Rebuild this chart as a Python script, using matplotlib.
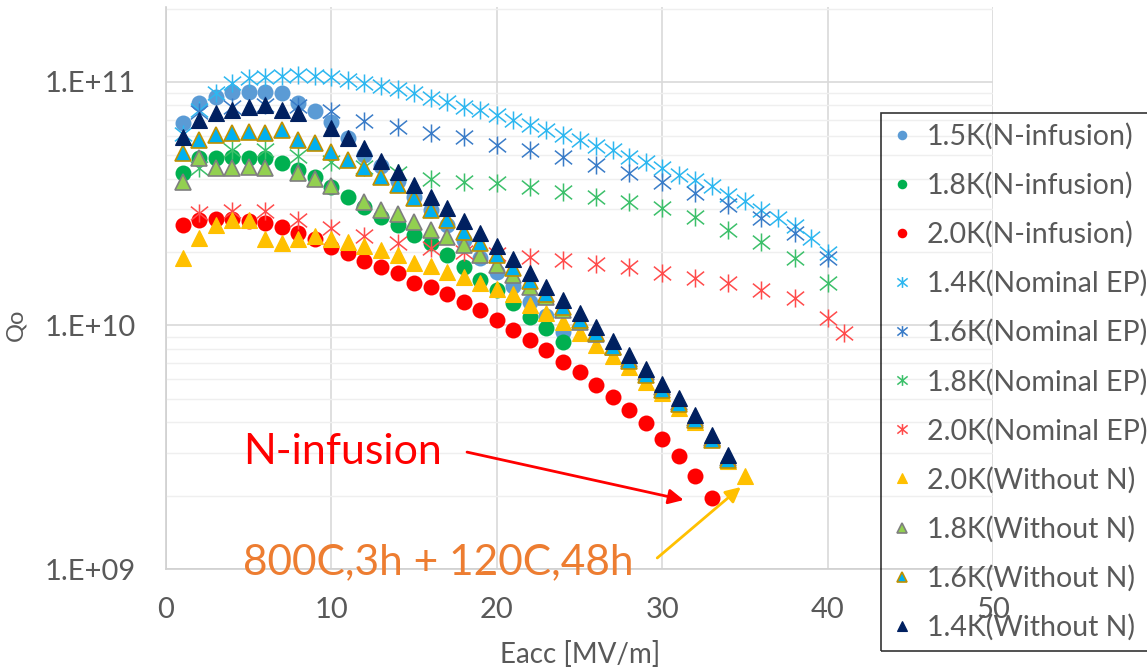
import numpy as np
import matplotlib
matplotlib.use("Agg")
import matplotlib.pyplot as plt
from matplotlib.path import Path
from matplotlib.ticker import FixedLocator, NullFormatter, LogLocator

plt.rcParams['font.family'] = ['Lato', 'DejaVu Sans']

# ---------------- data (Q in units of 1e10) ----------------
E_ninf_15 = list(range(1, 25))
Q_ninf_15 = [6.79, 8.20, 8.68, 9.10, 9.10, 9.10, 9.01, 8.20, 7.60, 6.85, 5.89, 5.01,
             4.52, 3.92, 3.37, 2.98, 2.59, 2.24, 1.89, 1.66, 1.45, 1.25, 1.09, 0.940]

E_ninf_18 = list(range(1, 25))
Q_ninf_18 = [4.23, 4.87, 4.87, 4.92, 4.87, 4.87, 4.65, 4.35, 4.07, 3.70, 3.37, 3.07,
             2.79, 2.59, 2.35, 2.18, 1.95, 1.74, 1.54, 1.40, 1.24, 1.08, 0.976, 0.857]

E_ninf_20 = list(range(1, 34))
Q_ninf_20 = [2.59, 2.71, 2.74, 2.74, 2.69, 2.64, 2.54, 2.40, 2.26, 2.10, 1.98, 1.84,
             1.74, 1.64, 1.50, 1.44, 1.34, 1.25, 1.16, 1.057, 0.959, 0.871, 0.792,
             0.707, 0.645, 0.570, 0.508, 0.448, 0.397, 0.341, 0.292, 0.241, 0.195]

E_nep_14 = list(range(1, 41))
Q_nep_14 = [6.1, 7.67, 9.01, 9.9, 10.4, 10.5, 10.6, 10.7, 10.6, 10.5, 10.2, 9.88,
            9.63, 9.33, 9.04, 8.57, 8.30, 7.92, 7.67, 7.32, 6.98, 6.66, 6.35, 6.06,
            5.78, 5.46, 5.26, 4.93, 4.70, 4.42, 4.15, 3.96, 3.72, 3.43, 3.24, 2.98,
            2.75, 2.55, 2.28, 1.98]

E_nep_16 = list(range(2, 41, 2))
Q_nep_16 = [7.53, 7.89, 8.04, 7.97, 7.60, 6.92, 6.53, 6.17, 5.94, 5.51, 5.26, 4.90,
            4.56, 4.23, 3.89, 3.50, 3.12, 2.76, 2.40, 1.89]

E_nep_18 = list(range(2, 41, 2))
Q_nep_18 = [4.44, 5.26, 5.26, 4.97, 4.69, 4.48, 4.23, 4.00, 3.89, 3.85, 3.70, 3.53,
            3.37, 3.21, 3.04, 2.79, 2.47, 2.20, 1.89, 1.50]

E_nep_20 = list(range(2, 41, 2)) + [41]
Q_nep_20 = [2.90, 2.96, 2.96, 2.71, 2.51, 2.33, 2.18, 2.08, 2.00, 1.96, 1.91, 1.86,
            1.79, 1.74, 1.64, 1.57, 1.50, 1.40, 1.30, 1.07, 0.932]

E_won_20 = list(range(1, 36))
Q_won_20 = [1.89, 2.29, 2.59, 2.71, 2.71, 2.26, 2.18, 2.26, 2.33, 2.26, 2.20, 2.12,
            2.04, 1.95, 1.81, 1.76, 1.66, 1.58, 1.50, 1.41, 1.34, 1.21, 1.125, 1.034,
            0.932, 0.832, 0.749, 0.676, 0.587, 0.529, 0.457, 0.401, 0.346, 0.278, 0.241]

E_won_18 = [1, 2, 3, 4, 5, 6, 8, 9, 10] + list(range(12, 35))
Q_won_18 = [3.89, 4.87, 4.44, 4.44, 4.48, 4.44, 4.23, 4.00, 3.74, 3.21, 2.98, 2.87,
            2.66, 2.47, 2.31, 2.14, 1.95, 1.77, 1.61, 1.44, 1.31, 1.16, 1.034, 0.922,
            0.815, 0.728, 0.645, 0.558, 0.485, 0.416, 0.346, 0.286]

E_won_16 = list(range(1, 35))
Q_won_16 = [5.11, 5.78, 6.06, 6.17, 6.23, 6.17, 6.35, 5.78, 5.62, 5.16, 4.78, 4.44,
            4.07, 3.77, 3.34, 2.98, 2.71, 2.42, 2.18, 1.95, 1.72, 1.52, 1.35, 1.19,
            1.057, 0.932, 0.815, 0.714, 0.626, 0.545, 0.476, 0.408, 0.339, 0.281]

E_won_14 = [1, 2, 3, 4, 5, 6, 7, 8] + list(range(10, 35))
Q_won_14 = [5.94, 6.98, 7.46, 7.67, 7.89, 8.04, 7.67, 7.46, 6.47, 5.89, 5.36, 4.74,
            4.27, 3.77, 3.37, 3.04, 2.69, 2.40, 2.12, 1.88, 1.64, 1.44, 1.27, 1.125,
            0.986, 0.864, 0.757, 0.663, 0.575, 0.503, 0.428, 0.354, 0.294]

labels = ["1.5K(N-infusion)", "1.8K(N-infusion)", "2.0K(N-infusion)",
          "1.4K(Nominal EP)", "1.6K(Nominal EP)", "1.8K(Nominal EP)", "2.0K(Nominal EP)",
          "2.0K(Without N)", "1.8K(Without N)", "1.6K(Without N)", "1.4K(Without N)"]
x_ticks = [0, 10, 20, 30, 40, 50]
y_ticks = [1e9, 1e10, 1e11]
y_ticklabels = ["1.E+09", "1.E+10", "1.E+11"]

# ---------------- figure ----------------
W, H = 1147, 669
fig = plt.figure(figsize=(W / 100, H / 100), dpi=100)
ax = fig.add_axes([166 / W, 1 - 569 / H, (993 - 166) / W, (569 - 7) / H])
ax.set_yscale('log')
ax.set_xlim(0, 50)
ax.set_ylim(1e9, 2.03e11)

star = Path([(-1, -0.8), (1, 0.8), (-1, 0.8), (1, -0.8), (0, -1.05), (0, 1.05)],
            [Path.MOVETO, Path.LINETO] * 3)

scale = 1e10
series = [
    (E_ninf_15, Q_ninf_15, dict(marker='o', ms=11.5, mfc='#5B9BD5', mec='#5B9BD5', mew=0)),
    (E_ninf_18, Q_ninf_18, dict(marker='o', ms=11.5, mfc='#00B050', mec='#00B050', mew=0)),
    (E_ninf_20, Q_ninf_20, dict(marker='o', ms=11.5, mfc='#FF0000', mec='#FF0000', mew=0)),
    (E_nep_14, Q_nep_14, dict(marker=star, ms=13, mfc='none', mec='#2DB7F0', mew=1.1)),
    (E_nep_16, Q_nep_16, dict(marker=star, ms=13, mfc='none', mec='#3A7CC8', mew=1.1)),
    (E_nep_18, Q_nep_18, dict(marker=star, ms=13, mfc='none', mec='#3CC06A', mew=1.1)),
    (E_nep_20, Q_nep_20, dict(marker=star, ms=13, mfc='none', mec='#FF4B4B', mew=1.1)),
    (E_won_20, Q_won_20, dict(marker='^', ms=11.5, mfc='#FFC000', mec='#FFC000', mew=0.8)),
    (E_won_18, Q_won_18, dict(marker='^', ms=11.5, mfc='#92D050', mec='#7F7F7F', mew=1.2)),
    (E_won_16, Q_won_16, dict(marker='^', ms=11.5, mfc='#00B0F0', mec='#BF9000', mew=1.2)),
    (E_won_14, Q_won_14, dict(marker='^', ms=11.5, mfc='#002060', mec='#002060', mew=0.8)),
]
handles = []
for (xs, qs, st), lab in zip(series, labels):
    h, = ax.plot(xs, np.array(qs) * scale, linestyle='none', label=lab, clip_on=False, **st)
    handles.append(h)

# grid / axes styling
ax.xaxis.set_major_locator(FixedLocator(x_ticks))
ax.set_xticklabels([str(v) for v in x_ticks])
ax.yaxis.set_major_locator(FixedLocator(y_ticks))
ax.set_yticklabels(y_ticklabels)
ax.yaxis.set_minor_locator(LogLocator(base=10, subs=np.arange(2, 10)))
ax.yaxis.set_minor_formatter(NullFormatter())
ax.grid(which='major', axis='both', color='#D9D9D9', lw=1.2)
ax.grid(which='minor', axis='y', color='#EFEFEF', lw=1.0)
ax.set_axisbelow(True)
for s in ['top', 'right']:
    ax.spines[s].set_visible(False)
for s in ['left', 'bottom']:
    ax.spines[s].set_color('#D0D0D0')
    ax.spines[s].set_linewidth(1.2)
ax.tick_params(axis='both', which='both', length=0, labelsize=21, colors='#595959')
ax.tick_params(axis='y', pad=21.5)
ax.tick_params(axis='x', pad=20)

ax.set_xlabel('Eacc [MV/m]', fontsize=20, color='#595959')
ax.xaxis.set_label_coords((580 - 166) / 827, -(641 - 569) / 562)
ax.set_ylabel('Qo', fontsize=17, color='#595959')
ax.yaxis.set_label_coords(-(166 - 26) / 827, (569 - 325) / 562)

# annotations
ax.text(4.66, 3.02e9, 'N-infusion', color='#FF0000', fontsize=31, va='center', ha='left')
ax.text(4.66, 1.07e9, '800C,3h + 120C,48h', color='#ED7D31', fontsize=30.5,
        va='center', ha='left', clip_on=False)
ax.annotate('', xy=(31.3, 1.92e9), xytext=(18.2, 3.02e9),
            arrowprops=dict(arrowstyle='-|>,head_length=0.9,head_width=0.45',
                            color='#FF0000', lw=2, shrinkA=0, shrinkB=0))
ax.annotate('', xy=(34.75, 2.17e9), xytext=(29.7, 1.11e9),
            arrowprops=dict(arrowstyle='-|>,head_length=0.9,head_width=0.45',
                            color='#FFC000', lw=2, shrinkA=0, shrinkB=0),
            annotation_clip=False)

leg = fig.legend(handles=handles, labels=labels, loc='upper left',
                 bbox_to_anchor=(881 / W, 1 - 113 / H), bbox_transform=fig.transFigure,
                 borderaxespad=0, frameon=True, fancybox=False, fontsize=20.5,
                 markerscale=0.6, handlelength=0.8, handletextpad=0.45,
                 labelspacing=0.78, borderpad=0.35, labelcolor='#595959')
leg.get_frame().set_edgecolor('black')
leg.get_frame().set_linewidth(1.2)
leg.get_frame().set_facecolor('none')

fig.savefig('out.png', dpi=100)
